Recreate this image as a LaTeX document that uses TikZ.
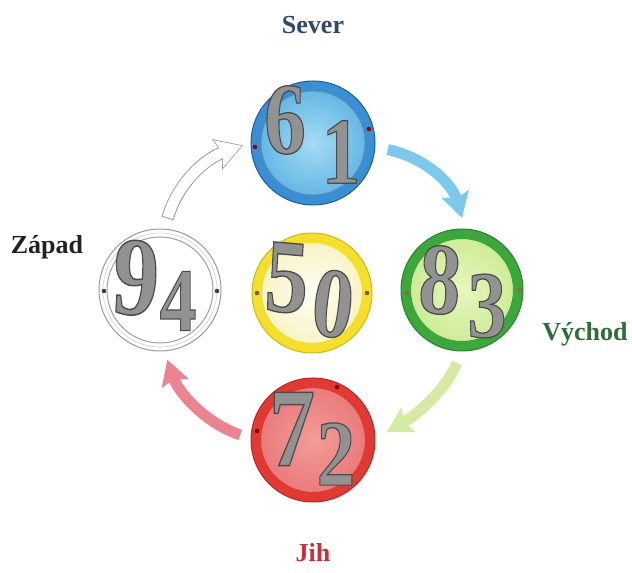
\documentclass[tikz,border=0pt]{standalone}
\usepackage{fontspec}
\setmainfont{Liberation Serif}
\usetikzlibrary{arrows.meta,calc}
\definecolor{severcol}{HTML}{34476B}
\definecolor{zapadcol}{HTML}{222222}
\definecolor{vychodcol}{HTML}{2E6E3A}
\definecolor{jihcol}{HTML}{C8303A}
\definecolor{ringblue}{HTML}{3A8ED2}
\definecolor{edgeblue}{HTML}{1F5C9C}
\definecolor{inblueA}{HTML}{A6DBF4}
\definecolor{inblueB}{HTML}{5FB5E3}
\definecolor{ringyellow}{HTML}{F3DF2C}
\definecolor{edgeyellow}{HTML}{D2B81E}
\definecolor{inyelA}{HTML}{FFFFF4}
\definecolor{inyelB}{HTML}{F7F2C2}
\definecolor{ringgreen}{HTML}{3DA63C}
\definecolor{edgegreen}{HTML}{28832C}
\definecolor{ingreenA}{HTML}{E6F6BE}
\definecolor{ingreenB}{HTML}{CDEB94}
\definecolor{ringred}{HTML}{E03A33}
\definecolor{edgered}{HTML}{B52727}
\definecolor{inredA}{HTML}{F29C98}
\definecolor{inredB}{HTML}{E9787A}
\definecolor{arrblue}{HTML}{7DC9EC}
\definecolor{arrgreen}{HTML}{D6EAA4}
\definecolor{arrpink}{HTML}{EC8390}
\definecolor{numgray}{HTML}{929292}
% outlined digit: fill in text colour, dark stroke
\newcommand\outl[1]{\special{pdf:literal direct 2 Tr 0.3 G 1.3 w}#1\special{pdf:literal direct 0 Tr 0.3985 w}}
\newcommand\mydigit[6]{%
  \node[numtext, xscale=0.82*#5, yscale=#5, rotate=#6] (#1) at (#2,#3) {\outl{#4}};}
\tikzset{
  ring/.style={circle, inner sep=0pt, line width=10pt},
  edge/.style={line width=1pt},
  rdot/.style={circle, inner sep=0pt, minimum size=4.6pt, fill=#1},
  numtext/.style={inner sep=0pt, text=numgray, font=\fontsize{100}{100}\selectfont\bfseries},
  dirlabel/.style={inner sep=0pt, font=\fontsize{26}{26}\selectfont\bfseries},
  fatarrow/.style={line width=11pt, -{Stealth[length=25pt, width=28pt, inset=5pt]}, color=#1},
}
\begin{document}
\begin{tikzpicture}[x=1pt,y=1pt]
\useasboundingbox[fill=white] (0,0) rectangle (632,573);
% circles
\node[ring, minimum size=114pt, draw=ringblue, inner color=inblueA, outer color=inblueB] (N) at (313,430) {};
\draw[edge, edgeblue] (N.center) circle (62);
\draw[line width=0.8pt, edgeblue!70] (N.center) circle (52);
\node[circle, inner sep=0pt, minimum size=122pt, draw=gray!80, line width=1pt, fill=white] (W) at (160,283) {};
\draw[line width=1pt, gray!75] (W.center) circle (53);
\draw[line width=0.5pt, gray!40] (W.center) circle (57);
\node[ring, minimum size=110pt, draw=ringyellow, inner color=inyelA, outer color=inyelB] (C) at (312,280) {};
\draw[edge, edgeyellow] (C.center) circle (60);
\node[ring, minimum size=112pt, draw=ringgreen, inner color=ingreenA, outer color=ingreenB] (E) at (462,283) {};
\draw[edge, edgegreen] (E.center) circle (61);
\node[ring, minimum size=114pt, draw=ringred, inner color=inredA, outer color=inredB] (S) at (313,133) {};
\draw[edge, edgered] (S.center) circle (62);
% dots
\node[rdot=red!60!black] (nd1) at (255,426) {};
\node[rdot=red!60!black] (nd2) at (369,444) {};
\node[rdot=black!75] (wd1) at (104,282) {};
\node[rdot=black!75] (wd2) at (217,282) {};
\node[rdot=brown!70!black] (cd1) at (257,280) {};
\node[rdot=brown!70!black] (cd2) at (367,280) {};
\node[rdot=brown!80!black] (ed1) at (407,280) {};
\node[rdot=brown!80!black] (ed2) at (520,283) {};
\node[rdot=red!55!black] (sd1) at (257,142) {};
\node[rdot=red!55!black] (sd2) at (337,186) {};
% digits
\mydigit{n6}{285}{453}{6}{1.02}{0}
\mydigit{n1}{341}{421}{1}{0.95}{0}
\mydigit{w9}{136}{295}{9}{1.12}{-4}
\mydigit{w4}{178}{272}{4}{0.9}{0}
\mydigit{c5}{287}{295}{5}{1.05}{-4}
\mydigit{c0}{333}{269}{0}{1.0}{-8}
\mydigit{e8}{440}{293}{8}{1.02}{-4}
\mydigit{e3}{487}{267}{3}{0.95}{0}
\mydigit{s7}{292}{144}{7}{1.12}{0}
\mydigit{s2}{336}{119}{2}{0.94}{0}
% arrows
\draw[fatarrow=arrblue] ($(N)+(-5:75)$) .. controls +(37,-8) and +(-10,35) .. ($(E)+(90:72)$);
\draw[fatarrow=arrgreen] ($(E)+(-94:73)$) .. controls +(-10,-25) and +(33,19) .. ($(S)+(6:74)$);
\draw[fatarrow=arrpink] ($(S)+(176:73)$) .. controls +(-35,12) and +(11,-33) .. ($(W)+(-84:70)$);
\draw[line width=12.4pt, -{Stealth[length=27pt, width=31pt, inset=5pt]}, color=gray!85] ($(W)+(84:72)$) .. controls +(10,35) and +(-38,-13) .. ($(N)+(182:70)$);
\draw[line width=10.6pt, -{Stealth[length=24.5pt, width=28pt, inset=4.5pt]}, color=white, shorten <=0.9pt, shorten >=1.3pt] ($(W)+(84:72)$) .. controls +(10,35) and +(-38,-13) .. ($(N)+(182:70)$);
% labels
\node[dirlabel, text=severcol] (sever) at (313,548) {Sever};
\node[dirlabel, text=zapadcol] (zapad) at (47,326) {Západ};
\node[dirlabel, text=vychodcol] (vychod) at (585,239) {Východ};
\node[dirlabel, text=jihcol] (jih) at (313,20) {Jih};
\end{tikzpicture}
\end{document}
